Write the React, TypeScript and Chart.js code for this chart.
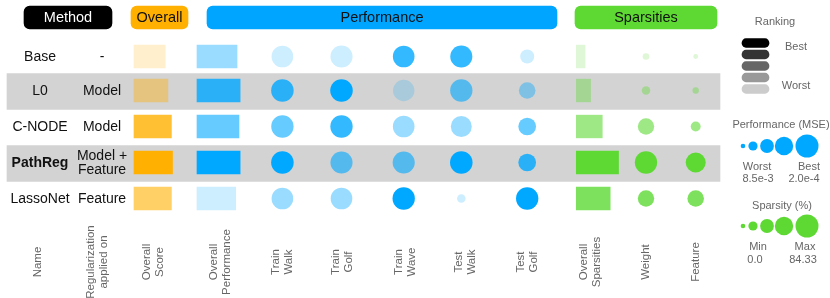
import React, { useEffect, useRef } from "react";
import { Chart, registerables } from "chart.js";

Chart.register(...registerables);

// ---------------- DATA ----------------
const methods = ["Base", "L0", "C-NODE", "PathReg", "LassoNet"];
const regularization = [["-"], ["Model"], ["Model"], ["Model +", "Feature"], ["Feature"]];
const highlighted = [false, true, false, true, false];

// bar values (relative 0..1) and ranks (1 = best)
const overallScore = [0.71, 0.77, 0.85, 0.875, 0.85];
const overallScoreRank = [5, 4, 2, 1, 3];
const overallPerf = [0.91, 0.98, 0.955, 0.98, 0.88];
const overallPerfRank = [4, 2, 3, 1, 5];
const overallSparsity = [0.2, 0.325, 0.59, 0.96, 0.77];
const overallSparsityRank = [5, 4, 3, 1, 2];

// circle values (relative 0..1) and ranks
const trainWalk = [0.94, 0.98, 0.97, 0.98, 0.94];
const trainWalkRank = [5, 2, 3, 1, 4];
const trainGolf = [0.96, 0.98, 0.97, 0.96, 0.94];
const trainGolfRank = [5, 1, 2, 3, 4];
const trainWave = [0.94, 0.93, 0.94, 0.96, 0.97];
const trainWaveRank = [2, 5, 4, 3, 1];
const testWalk = [0.96, 0.97, 0.91, 0.98, 0.37];
const testWalkRank = [2, 3, 4, 1, 5];
const testGolf = [0.61, 0.72, 0.77, 0.77, 0.97];
const testGolfRank = [5, 4, 3, 2, 1];
const weightSparsity = [0.29, 0.37, 0.71, 0.97, 0.71];
const weightRank = [5, 4, 3, 1, 2];
const featureSparsity = [0.21, 0.28, 0.43, 0.87, 0.72];
const featureRank = [5, 4, 3, 1, 2];

const columnLabels = [
  ["Name"],
  ["Regularization", "applied on"],
  ["Overall", "Score"],
  ["Overall", "Performance"],
  ["Train", "Walk"],
  ["Train", "Golf"],
  ["Train", "Wave"],
  ["Test", "Walk"],
  ["Test", "Golf"],
  ["Overall", "Sparsities"],
  ["Weight"],
  ["Feature"],
];
const groupLabels = ["Method", "Overall", "Performance", "Sparsities"];
const rankingLevels = ["#000000", "#333333", "#666666", "#999999", "#cccccc"];
const legendSizes = [0.2, 0.4, 0.6, 0.8, 1.0];
const perfLegendText = ["Worst", "8.5e-3", "Best", "2.0e-4"];
const sparLegendText = ["Min", "0.0", "Max", "84.33"];

// ---------------- LAYOUT / STYLE ----------------
const W = 830;
const H = 298;
const FONT = '"Liberation Sans", Arial, Helvetica, sans-serif';
const ROW_Y = [56.5, 90.5, 126.5, 162.5, 198.5];
const BAND_OFFSET = 1;
const BAND_X = [7, 720];
const NAME_X = 40;
const REG_X = 102;
const SCORE_X0 = 134;
const PERF_X0 = 197;
const SPAR_X0 = 576.3;
const BAR_MAX = 44;
const BAR_H = 22.7;
const R_MAX = 11.5;
const PERF_COL_X = [282.4, 341.5, 403.7, 461.3, 527.2];
const SPAR_COL_X = [646, 695.7];
const LABEL_X = [38, 97, 153, 220, 282, 342, 405, 465, 527, 590, 646, 696];
const LABEL_Y = 262;
const GROUP_SPANS = [[24, 112], [131, 188], [207, 557], [575, 717]];
const GROUP_Y = 17.5;
const ORANGE = [255, 176, 0];
const BLUE = [0, 168, 255];
const GREEN = [94, 217, 52];
const GROUP_COLORS = ["#000000", "rgb(255,176,0)", "rgb(0,165,255)", "rgb(94,217,52)"];
const GROUP_TEXT = ["#ffffff", "#111111", "#111111", "#111111"];
const RANK_X = [742, 769];
const RANK_Y0 = 43;
const RANK_STEP = 11.5;
const LEG_X = [743, 753, 767, 784, 807];
const PERF_LEG_Y = 146;
const SPAR_LEG_Y = 226;

const alphaForRank = (r: number) => [1, 0.8, 0.6, 0.4, 0.2][r - 1];
const rgba = (c: number[], a: number) => `rgba(${c[0]},${c[1]},${c[2]},${a})`;

function barDataset(x0: number, values: number[], ranks: number[], color: number[]) {
  return {
    type: "bar",
    indexAxis: "y",
    grouped: false,
    barThickness: BAR_H,
    borderWidth: 0,
    order: 1,
    data: values.map((v, i) => ({ x: [x0, x0 + v * BAR_MAX], y: ROW_Y[i] })),
    backgroundColor: ranks.map((r) => rgba(color, alphaForRank(r))),
  };
}

function circleDataset(x: number, values: number[], ranks: number[], color: number[]) {
  return {
    type: "bubble",
    borderWidth: 0,
    order: 1,
    data: values.map((v, i) => ({ x, y: ROW_Y[i], r: v * R_MAX })),
    backgroundColor: ranks.map((r) => rgba(color, alphaForRank(r))),
  };
}

const textPlugin = {
  id: "tableText",
  afterDatasetsDraw(chart: any) {
    const ctx = chart.ctx;
    const sx = chart.scales.x;
    const sy = chart.scales.y;
    const px = (v: number) => sx.getPixelForValue(v);
    const py = (v: number) => sy.getPixelForValue(v);
    ctx.save();
    ctx.textBaseline = "middle";
    ctx.textAlign = "center";

    // group headers
    ctx.font = `14.5px ${FONT}`;
    groupLabels.forEach((g, i) => {
      ctx.fillStyle = GROUP_TEXT[i];
      const [a, b] = GROUP_SPANS[i];
      ctx.fillText(g, px((a + b) / 2), py(GROUP_Y + 0.5));
    });

    // row labels
    methods.forEach((m, i) => {
      ctx.fillStyle = "#111111";
      ctx.font = `${m === "PathReg" ? "bold " : ""}14px ${FONT}`;
      ctx.fillText(m, px(NAME_X), py(ROW_Y[i] + 0.5));
      ctx.font = `14px ${FONT}`;
      const lines = regularization[i];
      lines.forEach((l, j) => {
        const off = (j - (lines.length - 1) / 2) * 14;
        ctx.fillText(l, px(REG_X), py(ROW_Y[i] + 0.5 + off));
      });
    });

    // column labels (rotated)
    ctx.font = `11.5px ${FONT}`;
    ctx.fillStyle = "#666666";
    columnLabels.forEach((lines, i) => {
      ctx.save();
      ctx.translate(px(LABEL_X[i]), py(LABEL_Y));
      ctx.rotate(-Math.PI / 2);
      lines.forEach((l, j) => {
        const off = (j - (lines.length - 1) / 2) * 12.7;
        ctx.fillText(l, 0, off);
      });
      ctx.restore();
    });

    // legends
    ctx.fillStyle = "#666666";
    ctx.font = `11px ${FONT}`;
    ctx.fillText("Ranking", px(775), py(22));
    ctx.fillText("Best", px(796), py(47));
    ctx.fillText("Worst", px(796), py(86));
    ctx.fillText("Performance (MSE)", px(781), py(125));
    ctx.fillText(perfLegendText[0], px(757), py(167));
    ctx.fillText(perfLegendText[1], px(758), py(179));
    ctx.fillText(perfLegendText[2], px(809), py(167));
    ctx.fillText(perfLegendText[3], px(804), py(179));
    ctx.fillText("Sparsity (%)", px(782), py(206));
    ctx.fillText(sparLegendText[0], px(758), py(247));
    ctx.fillText(sparLegendText[1], px(755), py(260));
    ctx.fillText(sparLegendText[2], px(805), py(247));
    ctx.fillText(sparLegendText[3], px(803), py(260));
    ctx.restore();
  },
};

export default function App() {
  const ref = useRef<HTMLCanvasElement>(null);
  useEffect(() => {
    const perfCols = [
      [trainWalk, trainWalkRank],
      [trainGolf, trainGolfRank],
      [trainWave, trainWaveRank],
      [testWalk, testWalkRank],
      [testGolf, testGolfRank],
    ];
    const sparCols = [
      [weightSparsity, weightRank],
      [featureSparsity, featureRank],
    ];
    const bandRows = ROW_Y.map((y, i) => ({ y, i })).filter((d) => highlighted[d.i]);
    const datasets: any[] = [
      // gray bands
      {
        type: "bar",
        indexAxis: "y",
        grouped: false,
        barThickness: 36,
        borderWidth: 0,
        order: 10,
        data: bandRows.map((d) => ({ x: BAND_X, y: d.y + BAND_OFFSET })),
        backgroundColor: "#d3d3d3",
      },
      // group header pills
      {
        type: "bar",
        indexAxis: "y",
        grouped: false,
        barThickness: 23,
        borderWidth: 0,
        borderRadius: 6,
        borderSkipped: false,
        order: 1,
        data: GROUP_SPANS.map((s) => ({ x: s, y: GROUP_Y })),
        backgroundColor: GROUP_COLORS,
      },
      barDataset(SCORE_X0, overallScore, overallScoreRank, ORANGE),
      barDataset(PERF_X0, overallPerf, overallPerfRank, BLUE),
      barDataset(SPAR_X0, overallSparsity, overallSparsityRank, GREEN),
      ...perfCols.map((c, k) => circleDataset(PERF_COL_X[k], c[0] as number[], c[1] as number[], BLUE)),
      ...sparCols.map((c, k) => circleDataset(SPAR_COL_X[k], c[0] as number[], c[1] as number[], GREEN)),
      // ranking legend
      {
        type: "bar",
        indexAxis: "y",
        grouped: false,
        barThickness: 8.6,
        borderWidth: 0,
        borderRadius: 4.3,
        borderSkipped: false,
        order: 1,
        data: rankingLevels.map((_, i) => ({ x: RANK_X, y: RANK_Y0 + i * RANK_STEP })),
        backgroundColor: rankingLevels,
      },
      // size legends
      {
        type: "bubble",
        borderWidth: 0,
        order: 1,
        data: legendSizes.map((s, i) => ({ x: LEG_X[i], y: PERF_LEG_Y, r: s * R_MAX })),
        backgroundColor: rgba(BLUE, 1),
      },
      {
        type: "bubble",
        borderWidth: 0,
        order: 1,
        data: legendSizes.map((s, i) => ({ x: LEG_X[i], y: SPAR_LEG_Y, r: s * R_MAX })),
        backgroundColor: rgba(GREEN, 1),
      },
    ];

    const chart = new Chart(ref.current as HTMLCanvasElement, {
      type: "bubble",
      data: { datasets },
      options: {
        responsive: false,
        animation: false,
        events: [],
        layout: { padding: 0, autoPadding: false },
        plugins: { legend: { display: false }, tooltip: { enabled: false } },
        scales: {
          x: { type: "linear", min: 0, max: W, display: false, offset: false },
          y: { type: "linear", min: 0, max: H, reverse: true, display: false, offset: false },
        },
      } as any,
      plugins: [textPlugin],
    } as any);
    return () => chart.destroy();
  }, []);

  return (
    <div style={{ position: "absolute", left: 0, top: 0, width: W, height: H }}>
      <canvas ref={ref} width={W} height={H} style={{ display: "block", width: W, height: H }} />
    </div>
  );
}
